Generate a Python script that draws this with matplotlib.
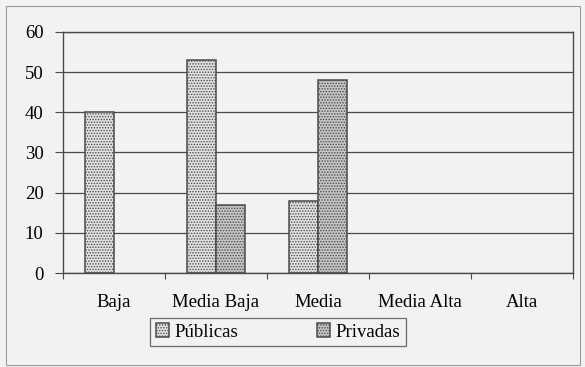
import numpy as np
import matplotlib

matplotlib.use("Agg")
import matplotlib.pyplot as plt
from matplotlib.patches import Rectangle

categories = ["Baja", "Media Baja", "Media", "Media Alta", "Alta"]
publicas = [40, 53, 18, 0, 0]
privadas = [0, 17, 48, 0, 0]
y_ticks = [0, 10, 20, 30, 40, 50, 60]

plt.rcParams["font.family"] = ["Liberation Serif", "DejaVu Serif"]
plt.rcParams["hatch.linewidth"] = 0.7

bg = "#f2f2f0"
edge = "#4a4a4a"
pub_style = dict(facecolor="#e2e2e0", edgecolor=edge, hatch="......", linewidth=1.1)
priv_style = dict(facecolor="#c6c6c4", edgecolor=edge, hatch="......", linewidth=1.1)

fig = plt.figure(figsize=(5.85, 3.67), dpi=100)
fig.patch.set_facecolor(bg)
# outer chart frame
fig.add_artist(Rectangle((6 / 585, 1 - 365 / 367), 574 / 585, 359 / 367,
                         transform=fig.transFigure, fill=False,
                         edgecolor="#9a9a9a", linewidth=0.8))

ax = fig.add_axes([0.1077, 0.2561, 0.8718, 0.657])
ax.set_facecolor(bg)

x = np.arange(len(categories))
w = 0.285
plt.rcParams["hatch.color"] = "#8a8a8a"
bar_pub = ax.bar(x - w / 2, publicas, w, **pub_style)
pub_handle = Rectangle((0, 0), 1, 1, **pub_style)
plt.rcParams["hatch.color"] = "#5a5a5a"
bar_priv = ax.bar(x + w / 2, privadas, w, **priv_style)
priv_handle = Rectangle((0, 0), 1, 1, **priv_style)

# empty categories show no bar at all
for bars in (bar_pub, bar_priv):
    for b, v in zip(bars, bars.datavalues):
        if v == 0:
            b.set_visible(False)

ax.set_xlim(-0.5, len(categories) - 0.5)
ax.set_ylim(0, 60)
ax.set_yticks(y_ticks)
ax.yaxis.grid(True, color=edge, linewidth=0.9)
ax.set_axisbelow(True)

ax.set_xticks(np.arange(len(categories) + 1) - 0.5)
ax.set_xticklabels([])
ax.set_xticks(x, minor=True)
ax.set_xticklabels(categories, minor=True)
ax.tick_params(axis="x", which="major", direction="out", length=4, color=edge)
ax.tick_params(axis="x", which="minor", length=0, pad=15, labelsize=13.5)
ax.tick_params(axis="y", direction="out", length=6, color=edge, pad=8,
               labelsize=13.5)

for spine in ax.spines.values():
    spine.set_color(edge)
    spine.set_linewidth(1.0)

leg = fig.legend([pub_handle, priv_handle], ["Públicas", "Privadas"], ncol=2,
                 loc="center", bbox_to_anchor=(278 / 585, 1 - 332 / 367),
                 frameon=True, fancybox=False, fontsize=13.5,
                 handlelength=0.7, handleheight=0.7, handletextpad=0.3,
                 columnspacing=4.2, borderpad=0.3)
leg.get_frame().set_edgecolor(edge)
leg.get_frame().set_facecolor(bg)
leg.get_frame().set_linewidth(0.9)

fig.savefig("out.png", dpi=100, facecolor=fig.get_facecolor())
